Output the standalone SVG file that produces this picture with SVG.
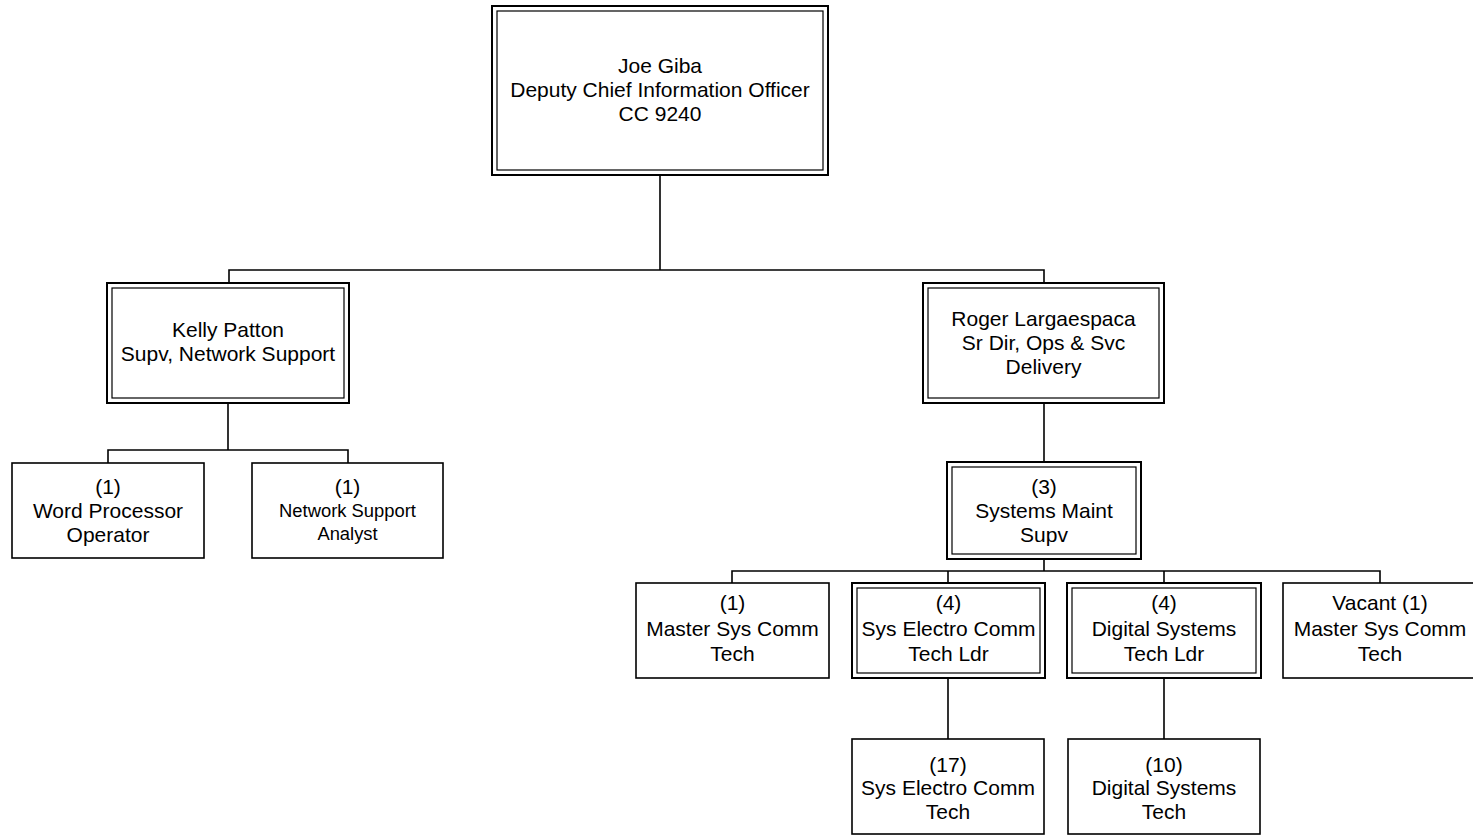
<svg xmlns="http://www.w3.org/2000/svg" width="1473" height="835" viewBox="0 0 1473 835">
<style>
.o{fill:#fff;stroke:#000;stroke-width:2}
.i{fill:none;stroke:#000;stroke-width:1.2}
.b{fill:#fff;stroke:#000;stroke-width:1.6}
.c{fill:none;stroke:#000;stroke-width:1.6}
text{font-family:"Liberation Sans",Arial,sans-serif;font-size:20px;text-anchor:middle;fill:#000}
.s{font-size:17.5px}
</style>
<rect width="1473" height="835" fill="#fff"/>
<g id="connectors">
<path class="c" d="M660 175V270M229 283V270H1044V283"/>
<path class="c" d="M228 403V450M108 463V450H348V463"/>
<path class="c" d="M1044 403V462"/>
<path class="c" d="M1044 559V571M732 583V571H1380V583M948 571V583M1164 571V583"/>
<path class="c" d="M948 678V739M1164 678V739"/>
</g>
<g id="n-giba">
<rect class="o" x="492" y="6" width="336" height="169"/>
<rect class="i" x="497" y="11" width="326" height="159"/>
<g transform="translate(660,0) scale(1.05,1)">
<text x="0" y="73">Joe Giba</text>
<text x="0" y="97">Deputy Chief Information Officer</text>
<text x="0" y="121">CC 9240</text>
</g>
</g>
<g id="n-patton">
<rect class="o" x="107" y="283" width="242" height="120"/>
<rect class="i" x="112" y="288" width="232" height="110"/>
<g transform="translate(228,0) scale(1.05,1)">
<text x="0" y="337">Kelly Patton</text>
<text x="0" y="361">Supv, Network Support</text>
</g>
</g>
<g id="n-largaespaca">
<rect class="o" x="923" y="283" width="241" height="120"/>
<rect class="i" x="928" y="288" width="231" height="110"/>
<g transform="translate(1043.5,0) scale(1.05,1)">
<text x="0" y="326">Roger Largaespaca</text>
<text x="0" y="350">Sr Dir, Ops &amp; Svc</text>
<text x="0" y="374">Delivery</text>
</g>
</g>
<g id="n-wordproc">
<rect class="b" x="12" y="463" width="192" height="95"/>
<g transform="translate(108,0) scale(1.05,1)">
<text x="0" y="494">(1)</text>
<text x="0" y="518">Word Processor</text>
<text x="0" y="542">Operator</text>
</g>
</g>
<g id="n-netanalyst">
<rect class="b" x="252" y="463" width="191" height="95"/>
<g transform="translate(347.5,0) scale(1.05,1)">
<text x="0" y="494">(1)</text>
<text class="s" x="0" y="517">Network Support</text>
<text class="s" x="0" y="540">Analyst</text>
</g>
</g>
<g id="n-sysmaint">
<rect class="o" x="947" y="462" width="194" height="97"/>
<rect class="i" x="952" y="467" width="184" height="87"/>
<g transform="translate(1044,0) scale(1.05,1)">
<text x="0" y="494">(3)</text>
<text x="0" y="518">Systems Maint</text>
<text x="0" y="542">Supv</text>
</g>
</g>
<g id="n-master1">
<rect class="b" x="636" y="583" width="193" height="95"/>
<g transform="translate(732.5,0) scale(1.05,1)">
<text x="0" y="610">(1)</text>
<text x="0" y="636">Master Sys Comm</text>
<text x="0" y="661">Tech</text>
</g>
</g>
<g id="n-electroldr">
<rect class="o" x="852" y="583" width="193" height="95"/>
<rect class="i" x="857" y="588" width="183" height="85"/>
<g transform="translate(948.5,0) scale(1.05,1)">
<text x="0" y="610">(4)</text>
<text x="0" y="636">Sys Electro Comm</text>
<text x="0" y="661">Tech Ldr</text>
</g>
</g>
<g id="n-digitalldr">
<rect class="o" x="1067" y="583" width="194" height="95"/>
<rect class="i" x="1072" y="588" width="184" height="85"/>
<g transform="translate(1164,0) scale(1.05,1)">
<text x="0" y="610">(4)</text>
<text x="0" y="636">Digital Systems</text>
<text x="0" y="661">Tech Ldr</text>
</g>
</g>
<g id="n-vacant">
<rect class="b" x="1283" y="583" width="194" height="95"/>
<g transform="translate(1380,0) scale(1.05,1)">
<text x="0" y="610">Vacant (1)</text>
<text x="0" y="636">Master Sys Comm</text>
<text x="0" y="661">Tech</text>
</g>
</g>
<g id="n-electro">
<rect class="b" x="852" y="739" width="192" height="95"/>
<g transform="translate(948,0) scale(1.05,1)">
<text x="0" y="772">(17)</text>
<text x="0" y="795">Sys Electro Comm</text>
<text x="0" y="819">Tech</text>
</g>
</g>
<g id="n-digital">
<rect class="b" x="1068" y="739" width="192" height="95"/>
<g transform="translate(1164,0) scale(1.05,1)">
<text x="0" y="772">(10)</text>
<text x="0" y="795">Digital Systems</text>
<text x="0" y="819">Tech</text>
</g>
</g>
</svg>
